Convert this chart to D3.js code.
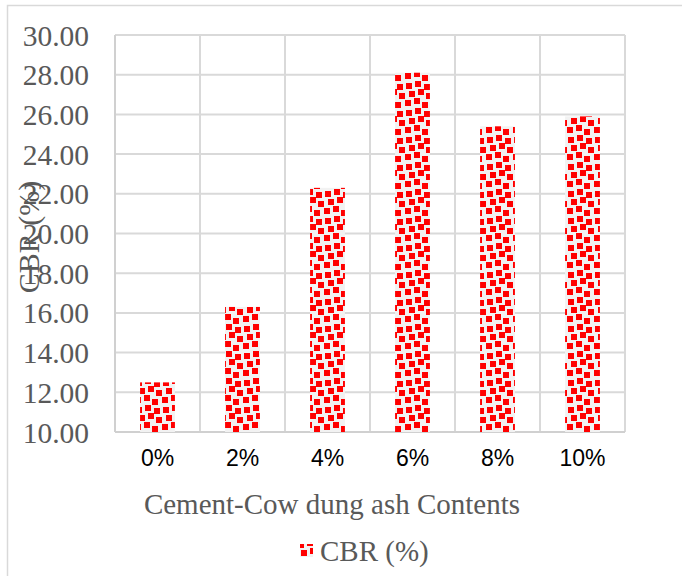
<!DOCTYPE html>
<html>
<head>
<meta charset="utf-8">
<script src="https://cdn.jsdelivr.net/npm/d3@7"></script>
<style>
  html, body { margin: 0; padding: 0; background: #fff; }
  svg { display: block; }
</style>
</head>
<body>
<svg id="chart" width="682" height="576"></svg>
<script>
// CBR values for each cement–cow dung ash content
const categories = ["0%", "2%", "4%", "6%", "8%", "10%"];
const cbrValues = [12.5, 16.3, 22.3, 28.1, 25.4, 25.9];
const yTicks = [10, 12, 14, 16, 18, 20, 22, 24, 26, 28, 30];
const seriesName = "CBR (%)";
const xTitle = "Cement-Cow dung ash Contents";
const yTitle = "CBR (%)";

const svg = d3.select("#chart");
const W = 682, H = 576;
const plot = { left: 115, top: 35, right: 625, bottom: 432 };

svg.append("rect").attr("width", W).attr("height", H).attr("fill", "#fff");

// outer chart frame
svg.append("rect")
  .attr("x", 7.5).attr("y", 5.5)
  .attr("width", W + 20).attr("height", H + 20)
  .attr("fill", "none").attr("stroke", "#d9d9d9").attr("stroke-width", 1.5);

// confetti fill for the bars
const defs = svg.append("defs");
defs.append("filter").attr("id", "soft")
  .attr("x", "-50%").attr("y", "-50%").attr("width", "200%").attr("height", "200%")
  .append("feGaussianBlur").attr("stdDeviation", 0.55);
const T = 27;
const pat = defs.append("pattern")
  .attr("id", "confetti").attr("patternUnits", "userSpaceOnUse")
  .attr("width", T).attr("height", T);
pat.append("rect").attr("width", T).attr("height", T).attr("fill", "#f2f2f2");
// jittered square positions inside one tile
const dots = [[1, 2], [10, 0], [19, 3], [4, 10], [13, 8], [21, 12], [0, 19], [9, 17], [17, 21]];
const dg = pat.append("g").attr("filter", "url(#soft)");
const placed = [];
dots.forEach(d => {
  [-T, 0, T].forEach(ox => [-T, 0, T].forEach(oy => placed.push([d[0] + ox, d[1] + oy])));
});
dg.selectAll("rect").data(placed).join("rect")
  .attr("x", d => d[0]).attr("y", d => d[1])
  .attr("width", 6).attr("height", 6).attr("fill", "#ff0000");

const x = d3.scaleBand().domain(categories).range([plot.left, plot.right]).paddingInner(0.59).paddingOuter(0.295);
const xGrid = d3.scaleBand().domain(categories).range([plot.left, plot.right]);
const y = d3.scaleLinear().domain([10, 30]).range([plot.bottom, plot.top]);

// gridlines
svg.append("g").selectAll("line.h").data(yTicks).join("line")
  .attr("x1", plot.left).attr("x2", plot.right)
  .attr("y1", d => y(d)).attr("y2", d => y(d))
  .attr("stroke", "#d9d9d9").attr("stroke-width", 2);
svg.append("g").selectAll("line.v").data(categories.slice(1).concat(["end"])).join("line")
  .attr("x1", (d, i) => i < categories.length - 1 ? xGrid(d) : plot.right)
  .attr("x2", (d, i) => i < categories.length - 1 ? xGrid(d) : plot.right)
  .attr("y1", plot.top).attr("y2", plot.bottom)
  .attr("stroke", "#d9d9d9").attr("stroke-width", 2);

// axis lines
svg.append("line").attr("x1", plot.left).attr("x2", plot.left)
  .attr("y1", plot.top).attr("y2", plot.bottom)
  .attr("stroke", "#d0d0d0").attr("stroke-width", 2);
svg.append("line").attr("x1", plot.left).attr("x2", plot.right)
  .attr("y1", plot.bottom).attr("y2", plot.bottom)
  .attr("stroke", "#d0d0d0").attr("stroke-width", 2);

// bars
svg.append("g").selectAll("rect").data(cbrValues).join("rect")
  .attr("x", (d, i) => x(categories[i]))
  .attr("width", x.bandwidth())
  .attr("y", d => y(d))
  .attr("height", d => y(10) - y(d))
  .attr("fill", "url(#confetti)");

// y tick labels
const yAxis = d3.axisLeft(y).tickValues(yTicks).tickFormat(d3.format(".2f")).tickSize(0).tickPadding(0);
const ya = svg.append("g").attr("transform", `translate(89,0)`).call(yAxis);
ya.select(".domain").remove();
ya.selectAll("text")
  .attr("font-family", "'Liberation Serif', 'Times New Roman', serif")
  .attr("font-size", 29.5).attr("fill", "#595959").attr("dy", "0.34em");

// x tick labels
const xAxis = d3.axisBottom(xGrid).tickSize(0).tickPadding(0);
const xa = svg.append("g").attr("transform", `translate(0,449)`).call(xAxis);
xa.select(".domain").remove();
xa.selectAll("text")
  .attr("font-family", "'Liberation Sans', Arial, sans-serif")
  .attr("font-size", 23).attr("fill", "#000").attr("dy", "0.72em");

// axis titles
svg.append("text").attr("x", 332).attr("y", 514).attr("text-anchor", "middle")
  .attr("font-family", "'Liberation Serif', 'Times New Roman', serif")
  .attr("font-size", 29).attr("fill", "#595959").text(xTitle);
svg.append("text").attr("transform", "translate(39,237) rotate(-90)").attr("text-anchor", "middle")
  .attr("font-family", "'Liberation Serif', 'Times New Roman', serif")
  .attr("font-size", 30).attr("fill", "#595959").text(yTitle);

// legend
svg.append("rect").attr("x", 300).attr("y", 544).attr("width", 13).attr("height", 13).attr("fill", "url(#confetti)");
svg.append("text").attr("x", 320).attr("y", 561)
  .attr("font-family", "'Liberation Serif', 'Times New Roman', serif")
  .attr("font-size", 29).attr("fill", "#595959").text(seriesName);
</script>
</body>
</html>
